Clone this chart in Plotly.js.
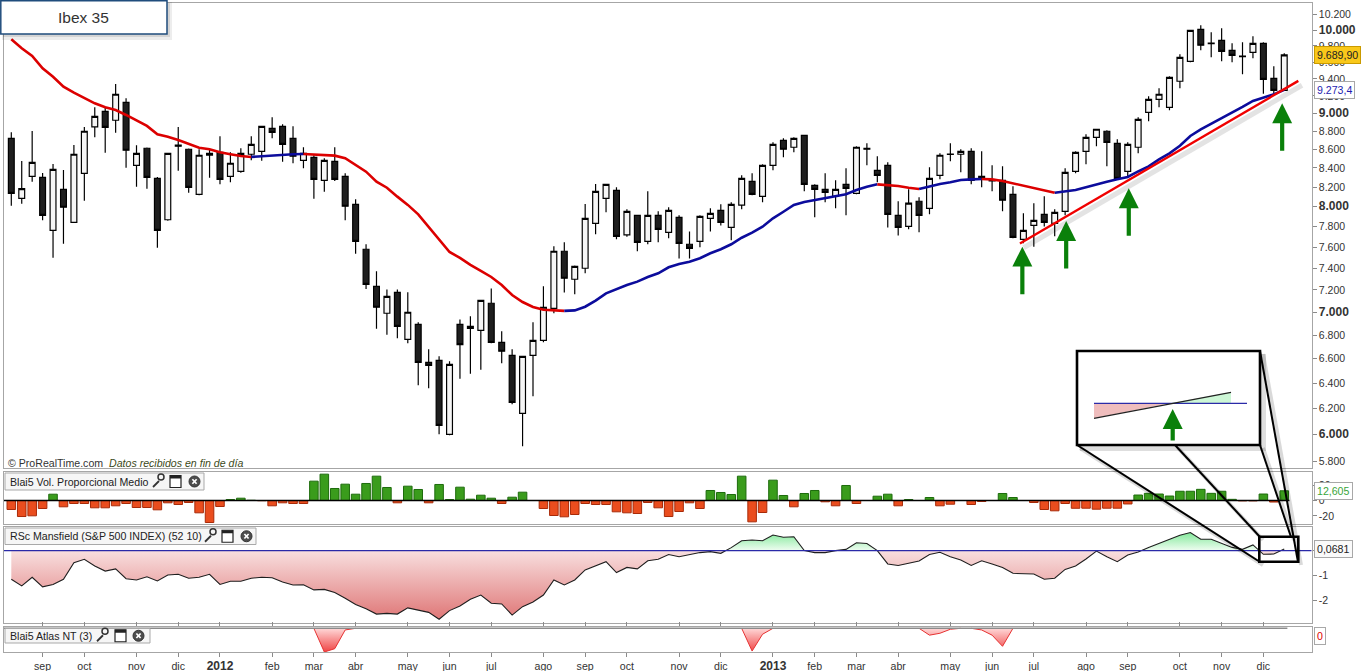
<!DOCTYPE html>
<html><head><meta charset="utf-8">
<script src="https://cdn.plot.ly/plotly-3.0.1.min.js"></script>
<style>html,body{margin:0;padding:0;background:#fff;}#chart{width:1361px;height:671px;}</style>
</head><body><div id="chart"></div>
<script>
// ---------- DATA (weekly Ibex 35, Aug 2011 - Dec 2013) ----------
const openP = [8721,8084,8312,8301,7763,8176,7842,8343,8847,9023,
8922,9127,8428,8612,8291,7868,8645,8601,8125,8536,
8568,8312,8364,8547,8579,8832,8854,8721,8482,8514,
8270,8471,8312,8023,7580,7233,6991,7178,6764,6894,
6571,6587,5999,6894,6858,6841,7080,6739,6629,6160,
6629,6755,7035,7561,7298,7400,7832,8084,8166,7718,
7912,7656,7912,7744,7892,7628,7656,7882,7962,7792,
8014,8259,8104,8428,8699,8623,8754,8218,8176,8104,
8228,8135,8612,8375,8428,7912,7802,8054,7982,8322,
8549,8547,8579,8312,8275,8270,8125,7676,7812,7922,
7832,7952,8364,8579,8732,8799,8666,8364,8623,9012,
9161,9069,9373,9612,10009,9830,9870,9746,9676,9722,
9833,9408,9266];
const highP = [8787,8474,8802,8347,8442,8378,8648,8847,9069,9069,
9341,9173,8644,8620,8305,8560,8847,8610,8601,8601,
8743,8568,8612,8743,8860,8955,8877,8854,8623,8536,
8503,8623,8343,8074,7628,7372,7205,7205,7178,6911,
6680,6621,6579,6937,6964,7110,7214,6833,6680,6625,
6911,7233,7608,7647,7427,8026,8231,8235,8197,7972,
7915,8156,7952,7993,7912,7753,7912,7982,8023,8044,
8322,8343,8439,8677,8721,8732,8760,8228,8343,8270,
8397,8634,8666,8525,8460,8054,8176,8094,8407,8557,
8666,8601,8612,8579,8428,8418,8207,7932,8034,8104,
7972,8397,8579,8765,8825,8810,8710,8677,8955,9196,
9290,9432,9698,10000,10060,9971,10021,9833,9846,9921,
9846,9552,9710];
const lowP = [8009,8029,8255,7862,7499,7633,7835,8060,8732,8564,
8783,8403,8203,8183,7595,7858,8371,8141,8115,8298,
8228,8249,8350,8482,8477,8721,8467,8450,8397,8080,
8152,8263,7862,7537,7208,6855,6804,6773,6730,6382,
6358,5999,5992,6436,6477,6510,6730,6563,6231,5909,
6294,6739,6991,7176,7160,7353,7724,7942,7676,7701,
7561,7628,7647,7685,7493,7493,7599,7753,7812,7666,
7972,8115,8044,8375,8514,8568,8156,7892,8044,7982,
7912,8125,8428,8249,7792,7714,7773,7744,7922,8280,
8471,8354,8228,8197,8156,7952,7685,7637,7605,7802,
7705,7912,8343,8439,8634,8418,8280,8312,8557,8910,
9069,9035,9290,9600,9746,9661,9612,9600,9455,9649,
9227,9231,9262];
const closeP = [8135,8183,8460,7912,8385,7993,8547,8799,8967,8843,
9220,8590,8557,8301,7763,8557,8635,8197,8536,8557,
8280,8450,8557,8655,8854,8787,8655,8525,8557,8280,
8482,8280,8003,7656,7251,7044,7142,6876,7000,6571,
6546,6068,6554,6719,6876,7106,6739,6663,6247,6621,
6755,7044,7561,7307,7418,7882,8156,8228,7705,7952,
7647,7912,7773,7962,7637,7589,7902,7932,7842,8023,
8291,8125,8428,8655,8601,8721,8228,8176,8145,8176,
8187,8623,8601,8322,7922,7792,8034,7912,8291,8536,
8545,8579,8270,8291,8265,8064,7695,7763,7862,7842,
7942,8354,8568,8732,8821,8677,8291,8655,8933,9161,
9220,9420,9661,9996,9809,9836,9734,9685,9670,9833,
9396,9266,9689.9];
const maValues = [9883,9771,9677,9528,9427,9309,9238,9173,9115,9069,
9038,8982,8917,8858,8765,8739,8702,8658,8618,8601,
8568,8547,8528,8518,8525,8536,8545,8547,8550,8543,
8539,8532,8504,8433,8361,8255,8193,8101,8017,7922,
7799,7669,7554,7497,7431,7375,7319,7245,7154,7091,
7047,7022,7014,7012,7016,7049,7104,7169,7208,7245,
7276,7319,7353,7409,7440,7462,7495,7542,7580,7628,
7691,7740,7799,7882,7948,8017,8047,8067,8087,8101,
8125,8169,8204,8228,8221,8211,8193,8179,8204,8232,
8249,8273,8280,8284,8280,8263,8239,8214,8193,8169,
8141,8152,8169,8197,8228,8255,8280,8305,8363,8417,
8492,8557,8639,8747,8819,8880,8948,9005,9074,9143,
9184,9219,9273.4];
const volValues = [-11.7,-20.8,-19.9,-10.4,8.2,-8.2,-3.9,-3.9,-9.5,-9.5,
-6.9,-3.9,-9.1,-9.1,-12.1,-3.0,-5.2,-2.6,-16.0,-28.6,
-7.8,1.3,3.0,0.3,-0.3,-6.9,-3.0,-3.9,-3.9,25.1,
34.2,15.6,21.2,8.2,22.1,31.6,16.9,-3.0,18.6,14.3,
-3.0,20.8,1.3,17.3,1.7,6.9,3.0,-3.9,4.3,10.8,
0,-10.4,-19.5,-21.2,-18.2,-3.9,-5.2,-5.2,-14.7,-16.0,
-16.9,-2.6,-9.5,-20.8,-14.3,-3.0,-10.4,13.0,10.4,7.8,
31.6,-27.7,-15.6,26.4,6.5,-8.2,9.1,13.0,-1.7,-6.9,
19.5,-3.9,0,5.6,8.2,-6.9,1.3,0,3.9,-6.9,
-4.8,0,-5.2,-1.3,0,9.1,3.9,0,-2.6,-11.7,
-13.4,-3.9,-10.1,-10.0,-11.3,-10.0,-10.0,-4.5,7.1,9.3,
8.4,5.8,12.0,12.0,14.5,9.3,12.0,1.5,-0.5,-0.5,
8.4,-2.0,12.605];
const rsValues = [-1.16,-1.43,-1.08,-1.47,-1.37,-1.16,-0.49,-0.35,-0.62,-0.83,
-0.74,-1.14,-1.19,-1.06,-1.23,-0.99,-0.96,-1.12,-1.08,-0.96,
-1.37,-1.24,-1.24,-1.12,-1.08,-1.10,-1.27,-1.39,-1.38,-1.59,
-1.57,-1.70,-1.93,-2.18,-2.35,-2.57,-2.54,-2.57,-2.32,-2.41,
-2.50,-2.78,-2.43,-2.24,-1.97,-1.80,-2.13,-2.16,-2.61,-2.27,
-2.08,-1.80,-1.19,-1.39,-1.19,-0.78,-0.62,-0.45,-0.89,-0.68,
-0.74,-0.41,-0.35,-0.16,-0.25,-0.15,-0.08,-0.04,-0.11,0.12,
0.40,0.43,0.40,0.63,0.54,0.56,0.0,-0.08,-0.08,0.0,
0.05,0.32,0.29,0.0,-0.54,-0.60,-0.52,-0.42,-0.16,-0.07,
-0.25,-0.38,-0.60,-0.41,-0.54,-0.68,-0.92,-0.92,-0.95,-1.16,
-1.12,-0.76,-0.62,-0.34,-0.02,-0.25,-0.45,-0.18,-0.06,0.13,
0.29,0.46,0.62,0.73,0.46,0.46,0.29,0.13,0.05,0.23,
-0.15,-0.14,0.0681];
const atlasValues = [0,0,0,0,0,0,0,0,0,0,
0,0,0,0,0,0,0,0,0,0,
0,0,0,0,0,0,0,0,0,0,
-1.0,-0.86,-0.07,0,0,0,0,0,0,0,
0,0,0,0,0,0,0,0,0,0,
0,0,0,0,0,0,0,0,0,0,
0,0,0,0,0,0,0,0,0,0,
0,-0.96,-0.25,0,0,0,0,0,0,0,
0,0,0,0,0,0,0,0,-0.29,-0.21,
-0.04,0,0,-0.07,-0.29,-0.76,0,0,0,0,
0,0,0,0,0,0,0,0,0,0,
0,0,0,0,0,0,0,0,0,0,
0,0,0];
const monthTickIdx = [3,7,12,16,20,25,29,33,38,42,46,51,55,59,64,68,73,77,81,85,90,94,98,103,107,112,116,120];
const monthTickLabels = ['sep','oct','nov','dic','2012','feb','mar','abr','may','jun','jul','ago',
  'sep','oct','nov','dic','2013','feb','mar','abr','may','jun','jul','ago','sep','oct','nov','dic'];
const priceTicks = [5800,6000,6200,6400,6600,6800,7000,7200,7400,7600,7800,8000,8200,8400,8600,8800,9000,9200,9400,9600,9800,10000,10200];
const boldPriceTicks = [6000,7000,8000,9000,10000];
const volTicks = [-20,0,20];
const rsTicks = [-2,-1,0];
// analyst drawings (trendline and arrows), in bar index / price
const trendStart = {i:96.67, p:7636};
const trendEnd = {i:123.35, p:9377};
const arrowMarks = [{i:96.9,p:7605},{i:101.1,p:7856},{i:107.1,p:8187},{i:121.8,p:9115}];

// ---------- LAYOUT HELPERS ----------
const W = 1361, H = 671;
const px = x => x / W;
const py = y => 1 - y / H;
const FONT = 'Liberation Sans, Arial, sans-serif';
const n = closeP.length;
const idx = closeP.map((_, i) => i);
const barX = x => (x - 11.3) / 10.434;   // pixel -> bar index
const X0 = 4, X1 = 1311.7;
const P = {main:[2.7,468.3], vol:[471.7,524.3], rs:[526.7,623.3], atlas:[626.7,652.3]};
const dom = a => [py(a[1]), py(a[0])];
const ppd = 1822; // px per price decade (log scale)
const mainRange = [4 - (P.main[1]-30)/ppd, 4 + (30-P.main[0])/ppd];
const volZ = 500.5, volK = 0.77;
const rsZ = 550.6, rsK = 24.7;
const atZ = 628.3, atK = 23.7;

function fmtEs(v, dec){
  const s = v.toFixed(dec).split('.');
  const ip = s[0].replace(/\B(?=(\d{3})+(?!\d))/g, '.');
  return s[1] ? ip + ',' + s[1] : ip;
}

const shapes = [], annotations = [];
function rectPx(x0,y0,x1,y1,o){ shapes.push(Object.assign({type:'rect',xref:'paper',yref:'paper',x0:px(x0),x1:px(x1),y0:py(y1),y1:py(y0)}, o)); }
function circPx(x0,y0,x1,y1,o){ shapes.push(Object.assign({type:'circle',xref:'paper',yref:'paper',x0:px(x0),x1:px(x1),y0:py(y1),y1:py(y0)}, o)); }
function linePx(x0,y0,x1,y1,color,width){ shapes.push({type:'line',xref:'paper',yref:'paper',x0:px(x0),y0:py(y0),x1:px(x1),y1:py(y1),line:{color:color,width:width}}); }
function pathPx(pts, fill){ const d = pts.map((p,k)=>(k?'L':'M')+px(p[0])+','+py(p[1])).join(' ')+' Z'; shapes.push({type:'path',xref:'paper',yref:'paper',path:d,fillcolor:fill,line:{width:0}}); }
function textPx(x,y,text,font,xa){ annotations.push({xref:'paper',yref:'paper',x:px(x),y:py(y),text:text,showarrow:false,xanchor:xa||'left',yanchor:'middle',font:font}); }

function icons(xw, xwin, xc, cy){
  linePx(xw+1, cy+5.5, xw+7, cy-0.5, '#333', 1.8);
  circPx(xw+6, cy-7.5, xw+12, cy-1.5, {line:{color:'#333',width:1.5}, fillcolor:'rgba(0,0,0,0)'});
  rectPx(xwin, cy-6, xwin+11, cy+6, {fillcolor:'#fff', line:{color:'#222',width:1.2}});
  rectPx(xwin, cy-6, xwin+11, cy-3, {fillcolor:'#222', line:{width:0}});
  circPx(xc, cy-5.5, xc+11, cy+5.5, {fillcolor:'#4d4d4d', line:{color:'#333',width:1}});
  linePx(xc+3.4, cy-2.3, xc+7.6, cy+2.3, '#fff', 1.7);
  linePx(xc+7.6, cy-2.3, xc+3.4, cy+2.3, '#fff', 1.7);
}
function panelTitle(x1, y0, y1, text, ic){
  rectPx(5, y0, x1, y1, {fillcolor:'#f6f6f6', line:{color:'#a9a9a9',width:1}});
  textPx(7.8, (y0+y1)/2, text, {family:FONT,size:10.6,color:'#222'});
  icons(ic[0], ic[1], ic[2], (y0+y1)/2);
}

// ---------- TRACES ----------
const traces = [];
traces.push({type:'candlestick', x:idx, open:openP, high:highP, low:lowP, close:closeP,
  xaxis:'x', yaxis:'y', whiskerwidth:0, hoverinfo:'skip',
  increasing:{line:{color:'#000',width:1.2}, fillcolor:'#f6f6f6'},
  decreasing:{line:{color:'#000',width:1.2}, fillcolor:'#1e1e1e'}});

// moving average coloured by direction
(function(){
  let start = 0, dir = maValues[1] >= maValues[0];
  const push = (a, b, d) => traces.push({type:'scatter', mode:'lines', x:idx.slice(a,b+1), y:maValues.slice(a,b+1),
    xaxis:'x', yaxis:'y', hoverinfo:'skip', line:{color: d ? '#0c0c9c' : '#dc0000', width:2.6}});
  for (let i = 1; i < n; i++){
    const d = maValues[i] >= maValues[i-1];
    if (d !== dir){ push(start, i-1, dir); start = i-1; dir = d; }
  }
  push(start, n-1, dir);
})();

// trendline with shadow
traces.push({type:'scatter', mode:'lines', x:[trendStart.i+0.35, trendEnd.i+0.35], y:[trendStart.p*0.9945, trendEnd.p*0.9945],
  xaxis:'x', yaxis:'y', hoverinfo:'skip', line:{color:'rgba(0,0,0,0.11)', width:5}});
traces.push({type:'scatter', mode:'lines', x:[trendStart.i, trendEnd.i], y:[trendStart.p, trendEnd.p],
  xaxis:'x', yaxis:'y', hoverinfo:'skip', line:{color:'#f00000', width:2.4}});

// volume-type histogram
traces.push({type:'bar', x:idx, y:volValues, xaxis:'x', yaxis:'y2', width:0.82, hoverinfo:'skip',
  marker:{color: volValues.map(v => v >= 0 ? '#3a9c1c' : '#ea4d1e'),
          line:{color: volValues.map(v => v >= 0 ? '#1d6b0c' : '#a82a08'), width:1}}});

// RS Mansfield area (split at zero crossings for the fills)
(function(){
  const fx = [], fy = [];
  for (let i = 0; i < n; i++){
    fx.push(i); fy.push(rsValues[i]);
    if (i < n-1 && rsValues[i]*rsValues[i+1] < 0){
      const t = rsValues[i] / (rsValues[i] - rsValues[i+1]);
      fx.push(i + t); fy.push(0);
    }
  }
  traces.push({type:'scatter', mode:'lines', x:fx, y:fy.map(v => Math.min(v,0)), xaxis:'x', yaxis:'y3', hoverinfo:'skip',
    line:{width:0}, fill:'tozeroy', fillcolor:'#eeb0b0',
    fillgradient:{type:'vertical', start:-2.8, stop:0, colorscale:[[0,'#df7676'],[1,'#f8dfdf']]}});
  traces.push({type:'scatter', mode:'lines', x:fx, y:fy.map(v => Math.max(v,0)), xaxis:'x', yaxis:'y3', hoverinfo:'skip',
    line:{width:0}, fill:'tozeroy', fillcolor:'#b8f3c4',
    fillgradient:{type:'vertical', start:0, stop:0.75, colorscale:[[0,'#effdf1'],[1,'#80e898']]}});
  traces.push({type:'scatter', mode:'lines', x:idx, y:rsValues, xaxis:'x', yaxis:'y3', hoverinfo:'skip',
    line:{color:'#1e1e1e', width:1.1}});
})();

// Atlas NT: one filled trace per non-zero run
(function(){
  let i = 0;
  while (i < n){
    if (atlasValues[i] !== 0){
      let j = i; while (j < n && atlasValues[j] !== 0) j++;
      const a = Math.max(0, i-1), b = Math.min(n-1, j);
      traces.push({type:'scatter', mode:'lines', x:idx.slice(a,b+1), y:atlasValues.slice(a,b+1), xaxis:'x', yaxis:'y4',
        hoverinfo:'skip', line:{color:'#e63232', width:1}, fill:'tozeroy', fillcolor:'#f79090',
        fillgradient:{type:'vertical', start:-1, stop:0, colorscale:[[0,'#ef4545'],[1,'#ffd8d8']]}});
      i = j;
    } else i++;
  }
})();

// ---------- SHAPES / ANNOTATIONS ----------
// zero lines
shapes.push({type:'line', xref:'x', yref:'y2', x0:barX(X0), x1:122.5, y0:0, y1:0, line:{color:'#000', width:1.3}});
shapes.push({type:'line', xref:'x', yref:'y3', x0:barX(X0), x1:barX(X1), y0:0, y1:0, line:{color:'#2a2aa8', width:1.2}});
shapes.push({type:'line', xref:'x', yref:'y4', x0:barX(X0), x1:122.3, y0:0, y1:0, line:{color:'#8c8c8c', width:1.6}});

// title box
rectPx(2, 2, 172, 40, {fillcolor:'rgba(0,0,0,0.07)', line:{width:0}});
rectPx(3, 3, 170, 37, {fillcolor:'rgba(0,0,0,0.10)', line:{width:0}});
rectPx(0.8, 0.8, 167, 34, {fillcolor:'#fff', line:{color:'#1f4c7c', width:1.5}});
textPx(83.5, 17.5, 'Ibex 35', {family:FONT, size:15.5, color:'#333'}, 'center');

// credit line
textPx(6, 462.5, '© ProRealTime.com\u00a0\u00a0<i><span style="color:#3c4a20">Datos recibidos en fin de día</span></i>', {family:FONT, size:10.6, color:'#333'});

// sub-panel titles
panelTitle(204, 473, 490, 'Blai5 Vol. Proporcional Medio', [152, 170, 189]);
panelTitle(256, 528, 544.5, 'RSc Mansfield (S&amp;P 500 INDEX) (52 10)', [204, 222, 241]);
panelTitle(150, 628.5, 643, 'Blai5 Atlas NT (3)', [96, 115, 133]);

// inset zoom box
rectPx(1080, 354, 1266, 451, {fillcolor:'rgba(0,0,0,0.13)', line:{width:0}});
rectPx(1077, 351, 1260, 445, {fillcolor:'#fff', line:{color:'#000', width:2.6}});
pathPx([[1094,403.3],[1094,418.3],[1170,403.3]], '#efbdbd');
pathPx([[1170,403.3],[1231,392.3],[1231,403.3]], '#cdf7d6');
linePx(1094, 403.3, 1247, 403.3, '#2b2ba8', 1.2);
linePx(1094, 418.3, 1231, 392.3, '#222', 1.2);
[[1077,445,1260,562],[1175,445,1260,537],[1260,351,1298,562],[1260,445,1291,537]].forEach(l => {
  linePx(l[0]+3, l[1]+3, l[2]+3, l[3]+3, 'rgba(0,0,0,0.15)', 4);
});
[[1077,445,1260,562],[1175,445,1260,537],[1260,351,1298,562],[1260,445,1291,537]].forEach(l => {
  linePx(l[0], l[1], l[2], l[3], '#000', 2);
});
rectPx(1259.3, 536.7, 1298.3, 561.7, {fillcolor:'rgba(0,0,0,0)', line:{color:'#000', width:2.6}});

// green arrows
const arrowStyle = {showarrow:true, arrowhead:2, arrowsize:0.95, arrowwidth:4.2, arrowcolor:'#0a800a', standoff:0, ax:0, text:''};
arrowMarks.forEach(a => annotations.push(Object.assign({xref:'x', yref:'y', x:a.i, y:Math.log10(a.p), ay:49}, arrowStyle)));
annotations.push(Object.assign({xref:'paper', yref:'paper', x:px(1172.7), y:py(409), ay:33}, arrowStyle));

// right-side value boxes
const lastClose = closeP[n-1], lastMA = maValues[n-1];
const boxFont = (c) => ({family:FONT, size:10.6, color:c});
annotations.push({xref:'paper', yref:'y', x:px(1313.5), y:Math.log10(lastClose), xanchor:'left', yanchor:'middle', showarrow:false,
  text:fmtEs(lastClose,2), font:boxFont('#222'), bgcolor:'#f9c81a', bordercolor:'#c99a00', borderwidth:1, borderpad:2});
annotations.push({xref:'paper', yref:'y', x:px(1313.5), y:Math.log10(lastMA), xanchor:'left', yanchor:'middle', showarrow:false,
  text:fmtEs(lastMA,1), font:boxFont('#1d1db0'), bgcolor:'#fff', bordercolor:'#a8a8a8', borderwidth:1, borderpad:2});
annotations.push({xref:'paper', yref:'y2', x:px(1313.5), y:volValues[n-1], xanchor:'left', yanchor:'middle', showarrow:false,
  text:fmtEs(volValues[n-1],3), font:boxFont('#3aa53a'), bgcolor:'#fff', bordercolor:'#a8a8a8', borderwidth:1, borderpad:2});
annotations.push({xref:'paper', yref:'y3', x:px(1313.5), y:rsValues[n-1], xanchor:'left', yanchor:'middle', showarrow:false,
  text:fmtEs(rsValues[n-1],4), font:boxFont('#222'), bgcolor:'#fafafa', bordercolor:'#a8a8a8', borderwidth:1, borderpad:2});
annotations.push({xref:'paper', yref:'paper', x:px(1313.5), y:py(635.5), xanchor:'left', yanchor:'middle', showarrow:false,
  text:'0', font:boxFont('#e00000'), bgcolor:'#fff', bordercolor:'#a8a8a8', borderwidth:1, borderpad:2});

// ---------- AXES ----------
const baseY = {showgrid:false, zeroline:false, showline:true, mirror:true, linecolor:'#a6a6a6', linewidth:1,
  side:'right', anchor:'x', ticks:'outside', ticklen:4, tickcolor:'#8a8a8a', fixedrange:true,
  tickfont:{family:FONT, size:10.5, color:'#333'}};
const layout = {
  width:W, height:H, margin:{l:0, r:0, t:0, b:0}, paper_bgcolor:'#fff', plot_bgcolor:'#fff',
  showlegend:false, hovermode:false, dragmode:false, boxgap:0.2,
  font:{family:FONT, color:'#333'},
  xaxis:{domain:[px(X0), px(X1)], range:[barX(X0), barX(X1)], anchor:'y4', showgrid:false, zeroline:false,
    showline:true, mirror:'all', linecolor:'#a6a6a6', ticks:'outside', ticklen:4, tickcolor:'#8a8a8a',
    tickmode:'array', tickvals:monthTickIdx,
    ticktext:monthTickLabels.map(t => /^\d{4}$/.test(t) ? '<span style="font-size:12px"><b>'+t+'</b></span>' : t),
    tickfont:{family:FONT, size:10.6, color:'#333'}, rangeslider:{visible:false}, fixedrange:true},
  yaxis:Object.assign({}, baseY, {domain:dom(P.main), type:'log', range:mainRange, tickmode:'array', tickvals:priceTicks,
    ticktext:priceTicks.map(v => boldPriceTicks.includes(v) ? '<span style="font-size:12px"><b>'+fmtEs(v,0)+'</b></span>' : fmtEs(v,0))}),
  yaxis2:Object.assign({}, baseY, {domain:dom(P.vol), range:[-(P.vol[1]-volZ)/volK, (volZ-P.vol[0])/volK],
    tickmode:'array', tickvals:volTicks, ticktext:volTicks.map(v => String(v))}),
  yaxis3:Object.assign({}, baseY, {domain:dom(P.rs), range:[-(P.rs[1]-rsZ)/rsK, (rsZ-P.rs[0])/rsK],
    tickmode:'array', tickvals:rsTicks, ticktext:rsTicks.map(v => String(v))}),
  yaxis4:Object.assign({}, baseY, {domain:dom(P.atlas), range:[-(P.atlas[1]-atZ)/atK, (atZ-P.atlas[0])/atK],
    showticklabels:false, ticks:''}),
  shapes:shapes, annotations:annotations
};
Plotly.newPlot('chart', traces, layout, {staticPlot:true, displayModeBar:false});
</script></body></html>
